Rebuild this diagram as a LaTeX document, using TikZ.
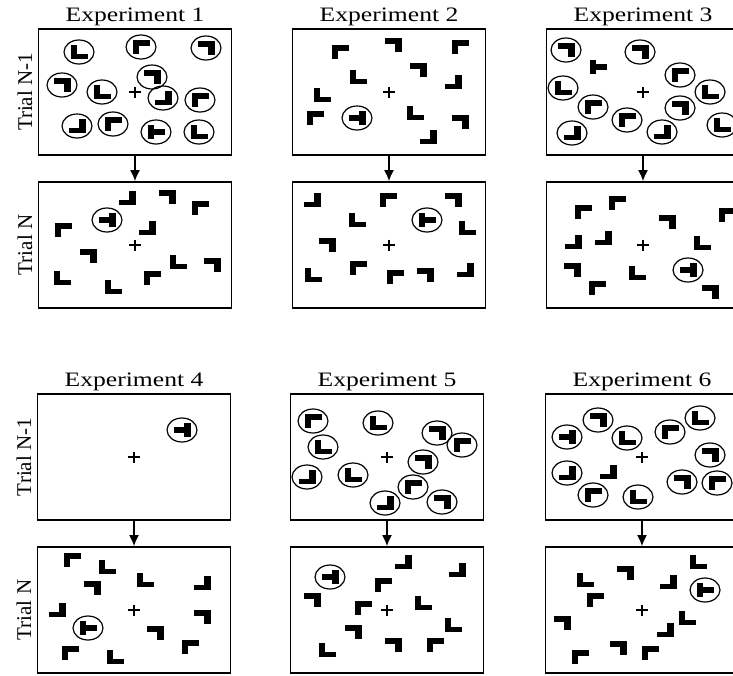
\documentclass[tikz,border=0pt]{standalone}
\usepackage{fontspec}
\setmainfont{Liberation Serif}
\newfontfamily\widefont[FakeStretch=1.25]{Liberation Serif}
\usetikzlibrary{arrows.meta,positioning}

\begin{document}
\begin{tikzpicture}[x=1pt,y=-1pt]

\tikzset{panel/.style = {draw,line width=1.7pt,minimum width=193pt,minimum height=126pt,inner sep=0pt}}
\tikzset{flow/.style = {->,> = {Latex[length=11pt,width=10pt]},line width=1.6pt}}
\tikzset{title/.style = {font=\widefont\fontsize{20.5}{24}\selectfont,inner sep=0pt}}
\tikzset{trial/.style = {font=\fontsize{21}{24}\selectfont,inner sep=0pt,rotate=90,anchor=south}}
\tikzset{ring/.style = {draw,line width=1.2pt}}
\tikzset{Ltl/.pic = {\fill (-8.5,-7) rectangle (8.5,-1.5); \fill (-8.5,-7) rectangle (-2,7);}}
\tikzset{Ltr/.pic = {\fill (-8.5,-7) rectangle (8.5,-1.5); \fill (2,-7) rectangle (8.5,7);}}
\tikzset{Lbl/.pic = {\fill (-8.5,1.5) rectangle (8.5,7); \fill (-8.5,-7) rectangle (-2,7);}}
\tikzset{Lbr/.pic = {\fill (-8.5,1.5) rectangle (8.5,7); \fill (2,-7) rectangle (8.5,7);}}
\tikzset{Tl/.pic = {\fill (-8.5,-7) rectangle (-2,7); \fill (-2,-2.75) rectangle (8.5,2.75);}}
\tikzset{Tr/.pic = {\fill (2,-7) rectangle (8.5,7); \fill (-8.5,-2.75) rectangle (2,2.75);}}
\tikzset{fix/.pic = {\draw[line width=1.6pt] (-6,0) -- (6,0) (0,-5.5) -- (0,5.5);}}

\clip (0,0) rectangle (733,675);

\node[panel] (e1a) at (135,92) {};
\node[panel] (e1b) at (135,245) {};
\node[panel] (e2a) at (389,92) {};
\node[panel] (e2b) at (389,245) {};
\node[panel] (e3a) at (643,92) {};
\node[panel] (e3b) at (643,245) {};
\node[panel] (e4a) at (134,457) {};
\node[panel] (e4b) at (134,610) {};
\node[panel] (e5a) at (387,457) {};
\node[panel] (e5b) at (387,610) {};
\node[panel] (e6a) at (642,457) {};
\node[panel] (e6b) at (642,610) {};

\node[title, above=2pt of e1a] (t1) {Experiment 1};
\node[title, above=2pt of e2a] (t2) {Experiment 2};
\node[title, above=2pt of e3a] (t3) {Experiment 3};
\node[title, above=2pt of e4a] (t4) {Experiment 4};
\node[title, above=2pt of e5a] (t5) {Experiment 5};
\node[title, above=2pt of e6a] (t6) {Experiment 6};

\node[trial] (l1a) at ([xshift=-5pt]e1a.west) {Trial N-1};
\node[trial] (l1b) at ([xshift=-5pt]e1b.west) {Trial N};
\node[trial] (l4a) at ([xshift=-5pt]e4a.west) {Trial N-1};
\node[trial] (l4b) at ([xshift=-5pt]e4b.west) {Trial N};

%edges
\draw[flow] (e1a) -- (e1b);
\draw[flow] (e2a) -- (e2b);
\draw[flow] (e3a) -- (e3b);
\draw[flow] (e4a) -- (e4b);
\draw[flow] (e5a) -- (e5b);
\draw[flow] (e6a) -- (e6b);

%fixation
\foreach \p in {e1a,e1b,e2a,e2b,e3a,e3b,e4a,e4b,e5a,e5b,e6a,e6b}
  \pic at (\p.center) {fix};

%items
\foreach \x/\y/\k in {
  127/198/Lbr, 167/197/Ltr, 200/208/Ltl, 63/230/Ltl, 147/228/Lbr, 88/256/Ltr,
  178/262/Lbl, 212/265/Ltr, 62/278/Lbl, 113/287/Lbl, 152/278/Ltl,
  340/52/Ltl, 393/45/Ltr, 460/47/Ltl, 358/77/Lbl, 418/70/Ltr, 453/82/Lbr,
  322/95/Lbl, 315/118/Ltl, 415/113/Lbl, 460/122/Ltr, 428/137/Lbr,
  312/200/Lbr, 388/200/Ltl, 453/200/Ltr, 357/220/Lbl, 467/228/Lbl, 327/245/Ltr,
  313/275/Lbl, 358/268/Ltl, 395/277/Ltl, 425/275/Ltr, 465/270/Lbr,
  598/67/Tl,
  583/212/Ltl, 617/203/Ltl, 667/222/Ltr, 727/215/Ltl, 573/242/Lbr, 603/238/Lbr,
  702/243/Lbl, 572/270/Ltr, 637/273/Lbl, 597/288/Ltl, 710/292/Ltr,
  72/560/Ltl, 107/567/Lbl, 145/580/Lbl, 202/583/Lbr, 92/588/Ltr, 57/610/Lbr,
  202/617/Ltr, 155/633/Ltr, 190/647/Ltl, 70/653/Ltl, 115/657/Lbl,
  403/562/Lbr, 457/570/Lbr, 383/585/Ltl, 312/600/Ltr, 363/608/Ltl, 423/603/Lbl,
  453/625/Lbl, 353/632/Ltr, 327/650/Lbl, 393/645/Ltr, 435/645/Ltl,
  608/472/Lbr,
  698/562/Lbl, 625/573/Ltr, 585/580/Lbl, 668/582/Lbr, 595/600/Ltl, 562/623/Ltr,
  687/618/Lbl, 665/630/Lbr, 618/648/Ltr, 580/657/Ltl, 650/653/Ltl}
  \pic at (\x,\y) {\k};

%circled items
\foreach \x/\y/\k in {
  79/52/Lbl, 141/47/Ltl, 206/48/Ltr, 62/85/Ltr, 102/92/Lbl, 152/77/Ltr,
  163/98/Lbr, 200/100/Ltl, 77/126/Lbr, 113/124/Ltl, 156/132/Tl, 199/132/Lbl,
  107/220/Tr, 357/118/Tr, 427/220/Tl,
  566/50/Ltr, 640/52/Ltr, 680/75/Ltl, 710/92/Lbl, 563/88/Lbl, 593/107/Ltl,
  680/108/Ltr, 627/120/Ltl, 662/132/Lbr, 572/133/Lbr, 722/125/Lbl,
  688/270/Tr, 182/430/Tr, 88/628/Tl,
  313/421/Ltl, 378/423/Lbl, 437/433/Ltr, 323/447/Lbl, 462/445/Ltl, 423/462/Ltr,
  307/477/Lbr, 353/475/Lbl, 413/487/Ltl, 442/502/Ltr, 385/503/Lbr,
  330/577/Tr,
  598/420/Ltr, 567/437/Tr, 627/438/Lbl, 670/432/Ltl, 700/418/Lbl, 710/455/Ltr,
  567/473/Lbr, 682/482/Ltr, 717/483/Ltl, 593/495/Ltl, 638/497/Lbl,
  705/590/Tl}
  {\draw[ring] (\x,\y) ellipse [x radius=15pt, y radius=12pt];
   \pic at (\x,\y) {\k};}
\end{tikzpicture}
\end{document}
